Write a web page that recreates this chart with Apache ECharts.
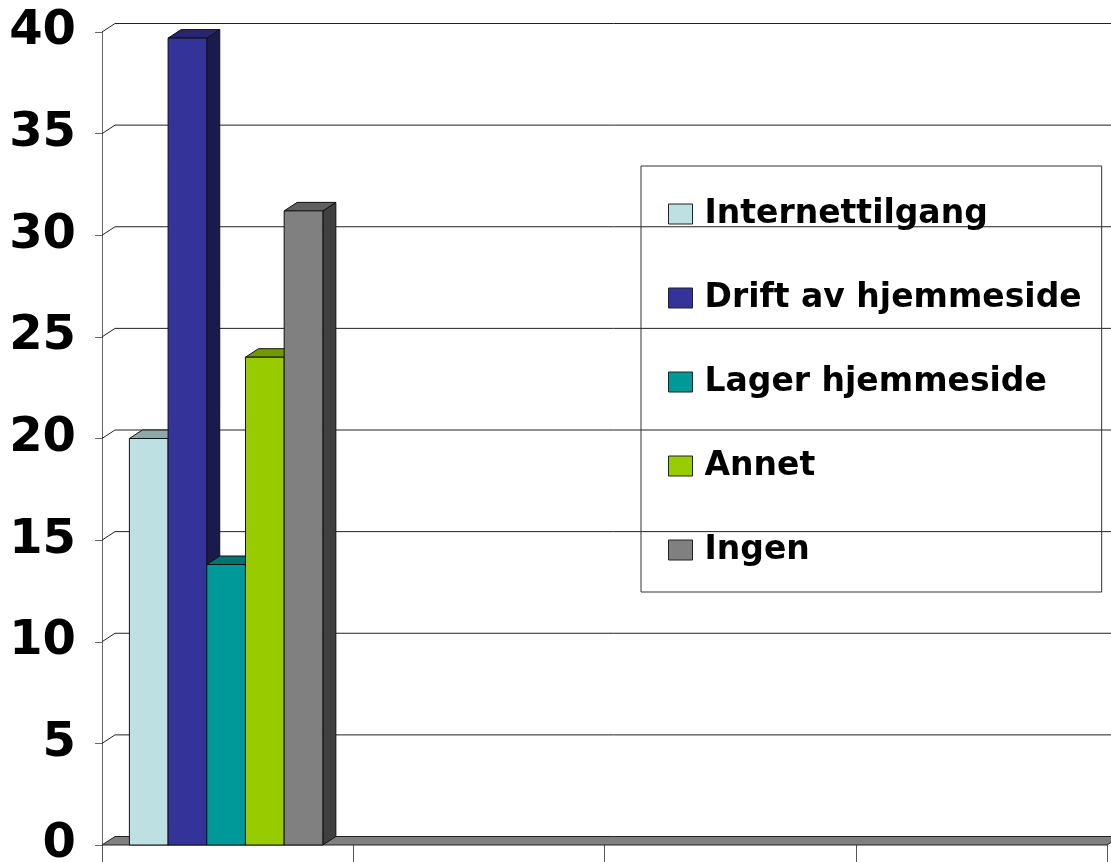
<!DOCTYPE html>
<html>
<head>
<meta charset="utf-8">
<script src="https://cdn.jsdelivr.net/npm/echarts@6/dist/echarts.min.js"></script>
<style>
html,body{margin:0;padding:0;background:#fff;}
#chart{width:1111px;height:862px;}
</style>
</head>
<body>
<div id="chart"></div>
<script>
// data
var categories = ['', '', '', ''];
var seriesNames = ['Internettilgang', 'Drift av hjemmeside', 'Lager hjemmeside', 'Annet', 'Ingen'];
var internettilgang = [20, null, null, null];
var driftHjemmeside = [39.7, null, null, null];
var lagerHjemmeside = [13.8, null, null, null];
var annet = [24, null, null, null];
var ingen = [31.2, null, null, null];
var yTicks = [5, 10, 15, 20, 25, 30, 35, 40];
var colors = ['#BDE0E3', '#333399', '#009999', '#99CC00', '#808080'];

var DX = 13, DY = 8.5;
var BAR_RATIO = 0.154;

function shade(hex, f) {
	var n = parseInt(hex.slice(1), 16);
	var r = Math.round(((n >> 16) & 255) * f);
	var g = Math.round(((n >> 8) & 255) * f);
	var b = Math.round((n & 255) * f);
	return 'rgb(' + r + ',' + g + ',' + b + ')';
}

function toPairs(arr) {
	var out = [];
	arr.forEach(function (v, i) { if (v != null) out.push([i, v]); });
	return out;
}

function barRenderer(idx, color) {
	return function (params, api) {
		var cat = api.value(0), v = api.value(1);
		var base = api.coord([cat, 0]);
		var top = api.coord([cat, v]);
		var band = api.size([1, 0])[0];
		var w = band * BAR_RATIO;
		var x = base[0] - 2.5 * w + idx * w - 1.5;
		var y = top[1], yb = base[1];
		return {
			type: 'group',
			children: [
				{ type: 'polygon', shape: { points: [[x + w, y], [x + w + DX, y - DY], [x + w + DX, yb - DY], [x + w, yb]] },
					style: { fill: shade(color, 0.5), stroke: '#111', lineWidth: 1 } },
				{ type: 'polygon', shape: { points: [[x, y], [x + DX, y - DY], [x + w + DX, y - DY], [x + w, y]] },
					style: { fill: shade(color, 0.75), stroke: '#111', lineWidth: 1 } },
				{ type: 'rect', shape: { x: x, y: y, width: w, height: yb - y },
					style: { fill: color, stroke: '#111', lineWidth: 1 } }
			]
		};
	};
}

var valueArrays = [internettilgang, driftHjemmeside, lagerHjemmeside, annet, ingen];

var series = [];

// back wall gridlines
series.push({
	type: 'custom',
	name: 'grid',
	silent: true,
	z: 1,
	data: yTicks.map(function (t) { return [0, t]; }),
	encode: { x: 0, y: 1 },
	renderItem: function (params, api) {
		var cs = params.coordSys;
		var y = api.coord([0, api.value(1)])[1];
		var x0 = cs.x, x1 = cs.x + cs.width;
		return {
			type: 'polyline',
			shape: { points: [[x0, y], [x0 + DX, y - DY], [x1 + DX, y - DY]] },
			style: { stroke: '#222', lineWidth: 1, fill: null }
		};
	}
});

// floor
series.push({
	type: 'custom',
	name: 'floor',
	silent: true,
	z: 2,
	data: [[0, 0]],
	encode: { x: 0, y: 1 },
	renderItem: function (params, api) {
		var cs = params.coordSys;
		var y0 = api.coord([0, 0])[1];
		var x0 = cs.x, x1 = cs.x + cs.width;
		return {
			type: 'polygon',
			shape: { points: [[x0, y0], [x1, y0], [x1 + DX, y0 - DY], [x0 + DX, y0 - DY]] },
			style: { fill: '#808080', stroke: '#222', lineWidth: 1 }
		};
	}
});

seriesNames.forEach(function (name, i) {
	series.push({
		type: 'custom',
		name: name,
		z: 3 + i,
		itemStyle: { color: colors[i], borderColor: '#222', borderWidth: 1 },
		data: toPairs(valueArrays[i]),
		encode: { x: 0, y: 1 },
		renderItem: barRenderer(i, colors[i])
	});
});

var chart = echarts.init(document.getElementById('chart'));

chart.setOption({
	animation: false,
	backgroundColor: '#fff',
	grid: { left: 102, right: 4, top: 32, bottom: 17, containLabel: false, outerBoundsMode: 'none' },
	legend: {
		data: seriesNames,
		orient: 'vertical',
		left: 641,
		top: 166,
		padding: [28, 20, 22, 27],
		borderColor: '#333',
		borderWidth: 1,
		itemWidth: 24,
		itemHeight: 20,
		itemGap: 44,
		itemStyle: { borderColor: '#222', borderWidth: 1 },
		icon: 'rect',
		textStyle: { fontFamily: 'DejaVu Sans', fontWeight: 'bold', fontSize: 33, lineHeight: 40, color: '#000', padding: [0, 0, 0, 7] }
	},
	xAxis: {
		type: 'category',
		data: categories,
		boundaryGap: true,
		axisLine: { show: false },
		axisTick: { show: true, length: 17, lineStyle: { color: '#555' } },
		axisLabel: { show: false },
		splitLine: { show: false }
	},
	yAxis: {
		type: 'value',
		min: 0,
		max: 40,
		interval: 5,
		axisLine: { show: true, lineStyle: { color: '#666' } },
		axisTick: { show: true, length: 7, lineStyle: { color: '#666' } },
		axisLabel: { margin: 26, fontFamily: 'DejaVu Sans', fontWeight: 'bold', fontSize: 48, color: '#000' },
		splitLine: { show: false }
	},
	series: series
});
</script>
</body>
</html>
